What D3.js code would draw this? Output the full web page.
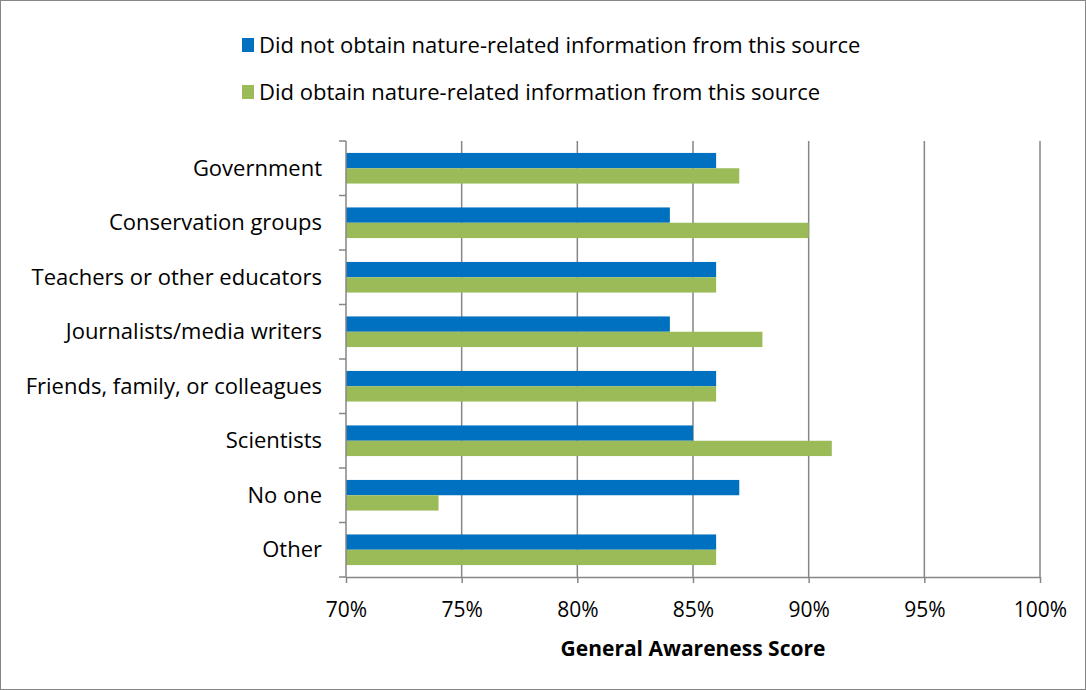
<!DOCTYPE html>
<html><head><meta charset="utf-8">
<script src="https://cdn.jsdelivr.net/npm/d3@7"></script>
<style>body{margin:0;background:#fff}svg{display:block;font-family:"Open Sans",sans-serif}</style>
</head><body><svg id="c" width="1086" height="690"></svg>
<script>
const categories = ["Government","Conservation groups","Teachers or other educators","Journalists/media writers","Friends, family, or colleagues","Scientists","No one","Other"];
const seriesNames = ["Did not obtain nature-related information from this source","Did obtain nature-related information from this source"];
const notObtained = [86,84,86,84,86,85,87,86];
const obtained = [87,90,86,88,86,91,74,86];
const xTicks = [70,75,80,85,90,95,100];
const colors = ["#0070C0","#9BBB59"];
const FONT = "'Open Sans', sans-serif";

const svg = d3.select("#c");
svg.append("rect").attr("x",0.5).attr("y",0.5).attr("width",1085).attr("height",689).attr("fill","#fff").attr("stroke","#868686");

const m = {left:346, right:1040, top:141, bottom:577};
const x = d3.scaleLinear().domain([70,100]).range([m.left,m.right]);
const y = d3.scaleBand().domain(categories).range([m.top,m.bottom]).paddingInner(0).paddingOuter(0);
const inner = d3.scaleBand().domain([0,1]).range([0,y.bandwidth()]).paddingInner(0).paddingOuter(0.78);

// gridlines
svg.append("g").selectAll("line").data(xTicks.slice(1)).join("line")
  .attr("x1",d=>x(d)).attr("x2",d=>x(d)).attr("y1",m.top).attr("y2",m.bottom)
  .attr("stroke","#868686").attr("stroke-width",1.5);

const data = categories.map((c,i)=>({c, v:[notObtained[i],obtained[i]]}));
const g = svg.append("g");
data.forEach(d=>{
  d.v.forEach((v,j)=>{
    g.append("rect").attr("x",x(70)).attr("y",y(d.c)+inner(j))
      .attr("width",x(v)-x(70)).attr("height",inner.bandwidth()).attr("fill",colors[j]);
  });
});

// x axis
const xa = svg.append("g").attr("transform",`translate(0,${m.bottom})`)
  .call(d3.axisBottom(x).tickValues(xTicks).tickFormat(d=>d+"%").tickSizeInner(6).tickSizeOuter(0).tickPadding(0));
xa.select(".domain").attr("stroke","#868686").attr("stroke-width",1.5);
xa.selectAll(".tick line").attr("stroke","#868686").attr("stroke-width",1.5);
xa.selectAll(".tick text").attr("y",33).attr("dy","0.35em").attr("font-size",21).attr("fill","#000").attr("font-family",FONT);

// y axis
svg.append("line").attr("x1",m.left).attr("x2",m.left).attr("y1",m.top).attr("y2",m.bottom).attr("stroke","#868686").attr("stroke-width",1.5);
const yb = categories.map(c=>y(c)).concat([m.bottom]);
svg.append("g").selectAll("line").data(yb).join("line")
  .attr("x1",m.left-7).attr("x2",m.left).attr("y1",d=>d).attr("y2",d=>d).attr("stroke","#868686").attr("stroke-width",1.5);
svg.append("g").selectAll("text").data(categories).join("text")
  .attr("x",322).attr("y",d=>y(d)+y.bandwidth()/2).attr("dy","0.35em")
  .attr("text-anchor","end").attr("font-size",22).attr("fill","#000").text(d=>d);

svg.append("text").attr("x",(m.left+m.right)/2).attr("y",649).attr("dy","0.35em").attr("text-anchor","middle")
  .attr("font-size",21).attr("font-weight","bold").attr("fill","#000").text("General Awareness Score");

// legend
seriesNames.forEach((s,i)=>{
  const ly = 45 + i*47;
  svg.append("rect").attr("x",242).attr("y",ly-7).attr("width",12).attr("height",14).attr("fill",colors[i]);
  svg.append("text").attr("x",259).attr("y",ly).attr("dy","0.35em").attr("font-size",22).attr("fill","#000").text(s);
});
</script></body></html>
